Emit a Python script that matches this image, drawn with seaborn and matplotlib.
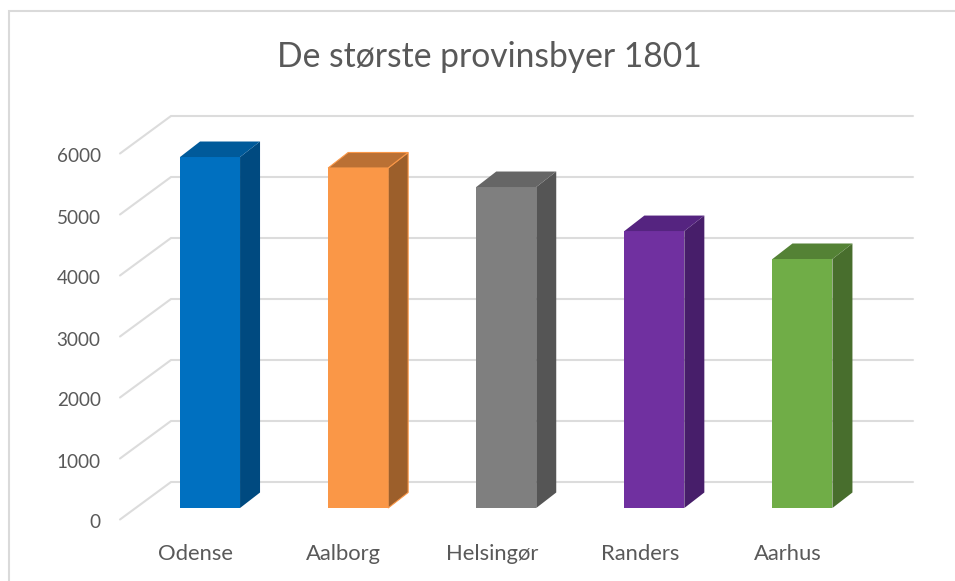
import matplotlib
matplotlib.use("Agg")
import matplotlib.pyplot as plt
import matplotlib.transforms as mtrans
from matplotlib.lines import Line2D
from matplotlib.patches import Polygon
import seaborn as sns

cities = ["Odense", "Aalborg", "Helsingør", "Randers", "Aarhus"]
population = [5754, 5574, 5262, 4540, 4082]
ticks = [0, 1000, 2000, 3000, 4000, 5000, 6000]

front_colors = ["#0070C0", "#FA9747", "#7F7F7F", "#7030A0", "#70AD47"]
side_colors = ["#004A80", "#9C5F2B", "#555555", "#471E6A", "#486E2D"]
top_colors = ["#005A9A", "#BA7034", "#666666", "#552480", "#548235"]
edge_colors = ["none", "#FA9747", "none", "none", "none"]

sns.set_theme(style="white")
plt.rcParams["font.family"] = ["Lato", "DejaVu Sans"]

fig = plt.figure(figsize=(9.55, 5.81), dpi=100)

# pixels per unit, the axes is placed so bars land on the reference pixels
px_x = 148.1
px_y = 0.061
ax_left = 136
ax = fig.add_axes([ax_left / 955, 73 / 581, 740.5 / 955, 408 / 581])

sns.barplot(x=cities, y=population, hue=cities, palette=front_colors, saturation=1,
            width=0.405, legend=False, zorder=3, linewidth=0, ax=ax)
ax.set_xlim(-0.5, 4.5)
ax.set_ylim(0, 408 / px_y)

# depth of the fake 3d boxes
dx = 20 / px_x
dy = 15.5 / px_y

for bar, side, top, edge in zip(ax.patches, side_colors, top_colors, edge_colors):
    x0 = bar.get_x()
    x1 = x0 + bar.get_width()
    h = bar.get_height()
    ax.add_patch(Polygon([(x1, 0), (x1 + dx, dy), (x1 + dx, h + dy), (x1, h)],
                         facecolor=side, edgecolor=edge, lw=0.8, zorder=3, clip_on=False))
    ax.add_patch(Polygon([(x0, h), (x0 + dx, h + dy), (x1 + dx, h + dy), (x1, h)],
                         facecolor=top, edgecolor=edge, lw=0.8, zorder=3, clip_on=False))

# back wall lines and the floor/side lines
wall_left = (171 - ax_left) / px_x - 0.5
wall_right = (913 - ax_left) / px_x - 0.5
front_left = (120 - ax_left) / px_x - 0.5
for t in ticks:
    back = t + 26 / px_y
    front = t - 11.5 / px_y
    ax.plot([front_left, wall_left, wall_right], [front, back, back], color="#DCDCDC",
            lw=1.5, zorder=1, clip_on=False, solid_joinstyle="miter")

sns.despine(ax=ax, left=True, bottom=True)
ax.set_yticks(ticks)
ax.set_yticklabels(ticks)
ax.tick_params(axis="both", length=0, labelsize=15.8, labelcolor="#595959")
ax.tick_params(axis="y", labelsize=13.6, pad=25.5)
ax.tick_params(axis="x", pad=25.7)

# labels sit lower/left of the bars, same as the source chart
y_shift = mtrans.ScaledTranslation(0, -13.5 / 100, fig.dpi_scale_trans)
x_shift = mtrans.ScaledTranslation(-14.5 / 100, 0, fig.dpi_scale_trans)
for label in ax.get_yticklabels():
    label.set_transform(label.get_transform() + y_shift)
for label in ax.get_xticklabels():
    label.set_transform(label.get_transform() + x_shift)

fig.text(489 / 955, 1 - 57 / 581, "De største provinsbyer 1801", fontsize=24.2,
         color="#595959", ha="center", va="center")

# chart frame, cropped on the right and bottom
fig.add_artist(Line2D([9 / 955, 9 / 955, 1], [0, 1 - 11 / 581, 1 - 11 / 581],
                      color="#DADADA", lw=1.5, solid_joinstyle="miter"))

fig.savefig("out.png", dpi=100)
